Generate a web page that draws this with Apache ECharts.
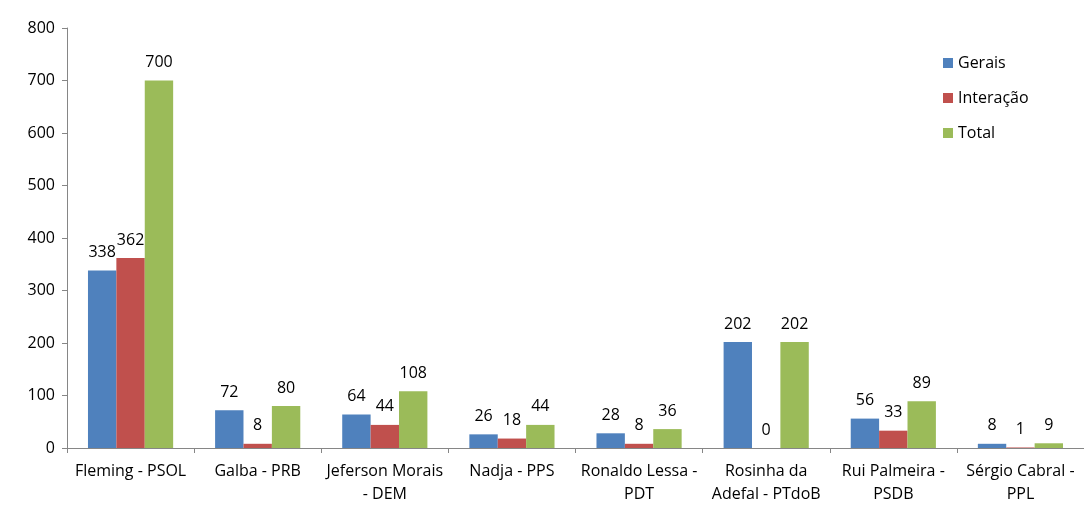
<!DOCTYPE html>
<html><head><meta charset="utf-8">
<script src="https://cdn.jsdelivr.net/npm/echarts@6/dist/echarts.min.js"></script>
<style>html,body{margin:0;padding:0;background:#fff}#c{width:1084px;height:507px}</style>
</head><body><div id="c"></div>
<script>
const categories = ["Fleming - PSOL","Galba - PRB","Jeferson Morais\n- DEM","Nadja - PPS","Ronaldo Lessa -\nPDT","Rosinha da\nAdefal - PTdoB","Rui Palmeira -\nPSDB","Sérgio Cabral -\nPPL"];
const gerais = [338,72,64,26,28,202,56,8];
const interacao = [362,8,44,18,8,0,33,1];
const total = [700,80,108,44,36,202,89,9];
const seriesNames = ["Gerais","Interação","Total"];
const colors = ["#4F81BD","#C0504D","#9BBB59"];
const font = "'Open Sans', 'Liberation Sans', sans-serif";
const chart = echarts.init(document.getElementById('c'));
const mk = (name, data, color) => ({
  name, type:'bar', data, barGap:'0%', barCategoryGap:'33%',
  itemStyle:{color},
  label:{show:true, position:'top', distance:10, color:'#000', fontFamily:font, fontSize:16}
});
chart.setOption({
  animation:false,
  textStyle:{fontFamily:font},
  grid:{left:67, right:-6, top:28, bottom:59, containLabel:false},
  legend:{orient:'vertical', left:938, top:47, itemWidth:10, itemHeight:10, itemGap:13,
    icon:'rect', textStyle:{fontSize:16, color:'#000', fontFamily:font, lineHeight:22}, data:seriesNames},
  xAxis:{type:'category', data:categories,
    axisLine:{lineStyle:{color:'#868686'}},
    axisTick:{show:true, length:5, lineStyle:{color:'#868686'}},
    axisLabel:{color:'#000', fontSize:16, fontFamily:font, margin:12, lineHeight:23, interval:0}},
  yAxis:{type:'value', min:0, max:800, interval:100,
    axisLine:{show:true, lineStyle:{color:'#868686'}},
    axisTick:{show:true, length:5, lineStyle:{color:'#868686'}},
    splitLine:{show:false},
    axisLabel:{color:'#000', fontSize:16, fontFamily:font, margin:12}},
  series:[mk(seriesNames[0], gerais, colors[0]), mk(seriesNames[1], interacao, colors[1]), mk(seriesNames[2], total, colors[2])]
});
</script></body></html>
